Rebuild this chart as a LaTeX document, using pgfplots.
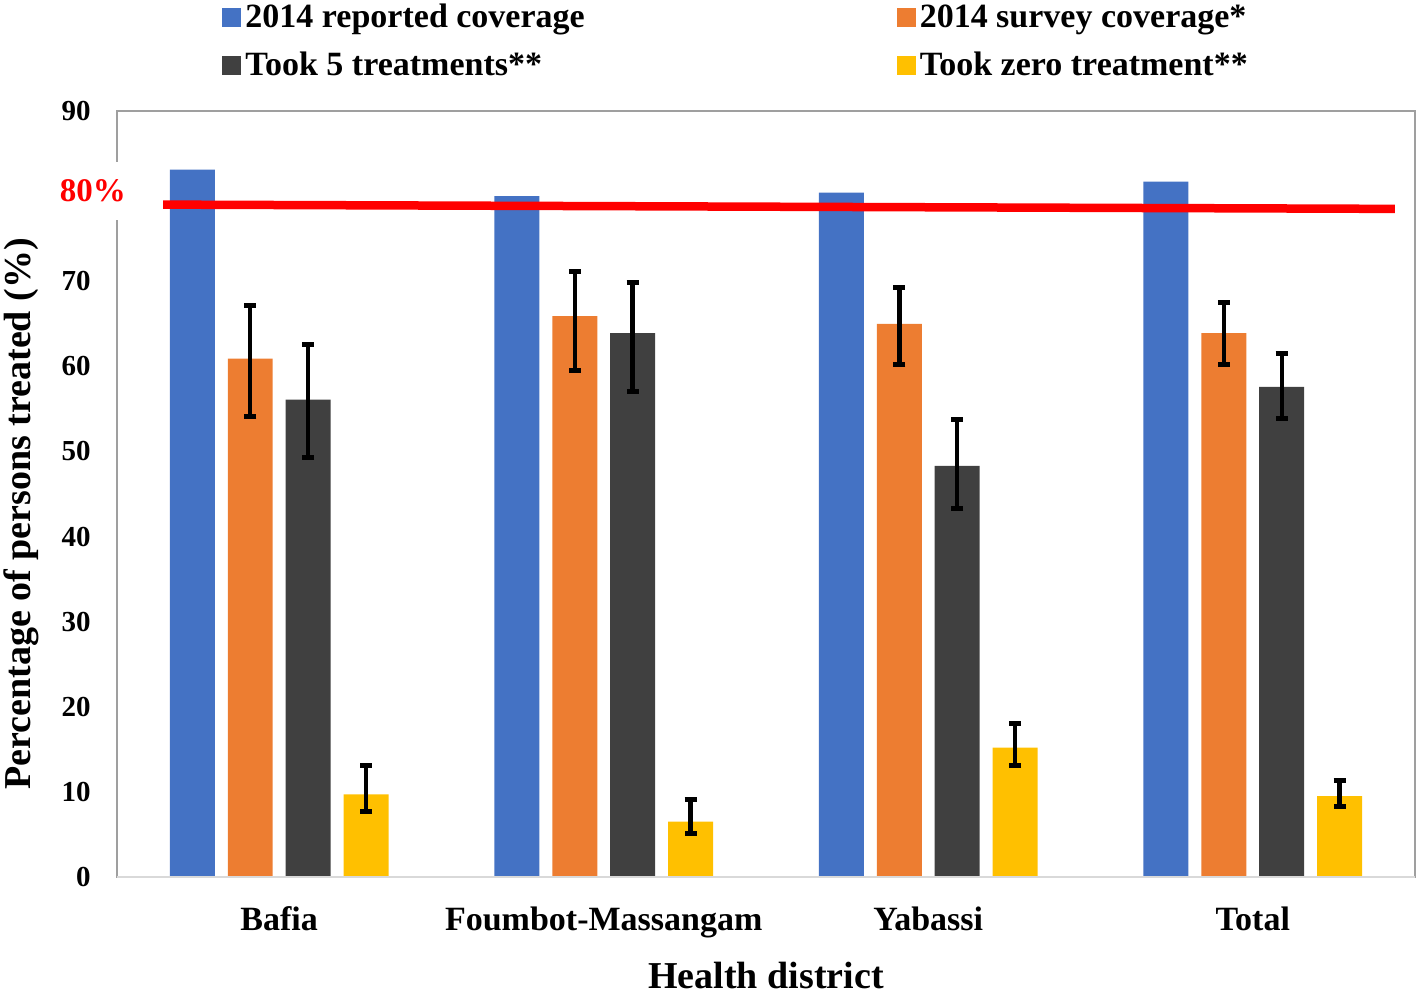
\documentclass[border=0pt]{standalone}
\usepackage{fontspec}
\setmainfont{Liberation Serif}
\usepackage{pgfplots}
\pgfplotsset{compat=1.18}
\definecolor{cblue}{HTML}{4472C4}
\definecolor{corange}{HTML}{ED7D31}
\definecolor{cdark}{HTML}{404040}
\definecolor{cyellow}{HTML}{FFC000}
\begin{document}
\begin{tikzpicture}
\begin{axis}[
 scale only axis, width=649pt, height=383pt,
 xmin=-0.5, xmax=3.5, ymin=0, ymax=90,
 xtick={0,1,2,3}, xticklabels={Bafia,Foumbot-Massangam,Yabassi,Total},
 ytick={0,10,20,30,40,50,60,70,90},
 major tick length=0pt,
 axis line style={gray!75, line width=0.75pt},
 yticklabel style={font=\fontsize{14.5}{16}\selectfont\bfseries, anchor=east, inner sep=0pt, xshift=-13pt},
 xticklabel style={font=\fontsize{17}{19}\selectfont\bfseries, anchor=north, inner sep=0pt, yshift=-14.5pt},
 /pgf/number format/assume math mode=true,
 xlabel={Health district}, ylabel={Percentage of persons treated (\%)},
 xlabel style={font=\fontsize{19}{22}\selectfont\bfseries, at={(axis description cs:0.5,0)}, anchor=north, inner sep=0pt, yshift=-42.5pt},
 ylabel style={font=\fontsize{19}{22}\selectfont\bfseries, at={(axis description cs:-0.0740,0.474)}, anchor=center, inner sep=0pt},
 clip=false,
 legend columns=2,
 legend cell align=left,
 legend style={draw=none, fill=none, at={(axis description cs:0.081,1)}, anchor=south west, yshift=14pt,
   font=\fontsize{17}{19}\selectfont\bfseries, inner sep=0pt,
   /tikz/every even column/.append style={column sep=154pt}, row sep=6.5pt},
 legend image code/.code={\fill[#1] (0pt,-4.75pt) rectangle (9.5pt,4.75pt);},
 error bars/error bar style={black, line width=2.2pt},
 error bars/error mark options={black, line width=2.5pt, mark size=3pt, rotate=90},
]
\addplot[ybar, bar width=0.1385, bar shift=0, fill=cblue, draw=none]
 coordinates {(-0.2677,83.1) (0.7323,80.0) (1.7323,80.4) (2.7323,81.7)};
\addlegendentry{2014 reported coverage}
\addplot[ybar, bar width=0.1385, bar shift=0, fill=corange, draw=none,
 error bars/.cd, y dir=both, y explicit]
 coordinates {(-0.0892,60.9) += (0,6.2) -= (0,6.8)
              (0.9108,65.9) += (0,5.3) -= (0,6.4)
              (1.9108,65.0) += (0,4.3) -= (0,4.8)
              (2.9108,63.9) += (0,3.6) -= (0,3.7)};
\addlegendentry{2014 survey coverage*}
\addplot[ybar, bar width=0.1385, bar shift=0, fill=cdark, draw=none,
 error bars/.cd, y dir=both, y explicit]
 coordinates {(0.0892,56.1) += (0,6.5) -= (0,6.8)
              (1.0892,63.9) += (0,5.9) -= (0,6.9)
              (2.0892,48.3) += (0,5.4) -= (0,5.0)
              (3.0892,57.6) += (0,3.9) -= (0,3.7)};
\addlegendentry{Took 5 treatments**}
\addplot[ybar, bar width=0.1385, bar shift=0, fill=cyellow, draw=none,
 error bars/.cd, y dir=both, y explicit]
 coordinates {(0.2677,9.7) += (0,3.4) -= (0,2.0)
              (1.2677,6.5) += (0,2.6) -= (0,1.4)
              (2.2677,15.2) += (0,2.8) -= (0,2.1)
              (3.2677,9.5) += (0,1.8) -= (0,1.2)};
\addlegendentry{Took zero treatment**}
\addplot[red, line width=4.25pt, forget plot] coordinates {(-0.358,79.0) (3.438,78.5)};
\draw[gray!30, line width=1pt] (rel axis cs:0,0) -- (rel axis cs:1,0);
\node[fill=white, text=red, font=\fontsize{16.5}{18}\selectfont\bfseries, inner xsep=1pt, inner ysep=9pt] at (axis cs:-0.574,80.6) {80\%};
\path (rel axis cs:-0.0901,-0.1593) rectangle (rel axis cs:1.0023,1.1449);
\end{axis}
\end{tikzpicture}
\end{document}
